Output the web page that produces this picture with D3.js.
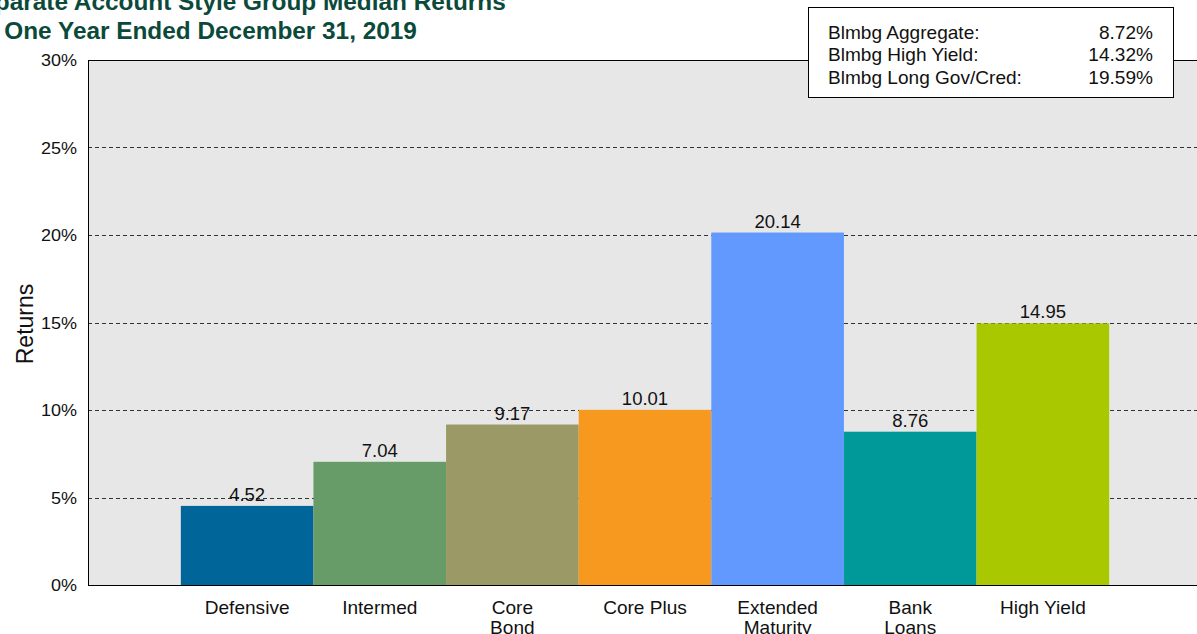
<!DOCTYPE html>
<html>
<head>
<meta charset="utf-8">
<script src="https://cdn.jsdelivr.net/npm/d3@7"></script>
<style>
  html, body { margin: 0; padding: 0; background: #ffffff; overflow: hidden; }
  svg { display: block; font-family: Arial, "Liberation Sans", sans-serif; }
</style>
</head>
<body>
<svg id="chart" width="1197" height="634"></svg>
<script>
// Style groups and their median one-year returns (%)
const categories = [["Defensive"], ["Intermed"], ["Core", "Bond"], ["Core Plus"], ["Extended", "Maturity"], ["Bank", "Loans"], ["High Yield"]];
const returns = [4.52, 7.04, 9.17, 10.01, 20.14, 8.76, 14.95];
const barColors = ["#006699", "#679b68", "#9b9966", "#f7981f", "#6199ff", "#009999", "#aac800"];

// Index returns shown in the box
const indexNames = ["Blmbg Aggregate:", "Blmbg High Yield:", "Blmbg Long Gov/Cred:"];
const indexValues = [8.72, 14.32, 19.59];

const yTicks = [0, 5, 10, 15, 20, 25, 30];
const titleLines = ["Separate Account Style Group Median Returns", "for One Year Ended December 31, 2019"];

const svg = d3.select("#chart");
const plot = { left: 88, right: 1202, top: 60, bottom: 585 };
const keys = categories.map(c => c.join(" "));
const STRETCH = 1.06; // slightly wide lettering

// Text placed at (x, y) and widened horizontally around its anchor
function label(parent, x, y, str, size, anchor, stretch) {
  return parent.append("text")
    .attr("transform", `translate(${x},${y}) scale(${stretch || STRETCH},1)`)
    .attr("text-anchor", anchor || "start")
    .attr("font-size", size)
    .attr("fill", "#111")
    .text(str);
}

const x = d3.scaleBand().domain(keys).range([plot.left, plot.right]).paddingInner(0).paddingOuter(0.7);
const y = d3.scaleLinear().domain([0, 30]).range([plot.bottom, plot.top]);

// Plot background
svg.append("rect")
  .attr("x", plot.left).attr("y", plot.top)
  .attr("width", plot.right - plot.left).attr("height", plot.bottom - plot.top)
  .attr("fill", "#e7e7e7");

// Dashed gridlines
svg.append("g")
  .selectAll("line")
  .data(yTicks.filter(t => t > 0 && t < 30))
  .join("line")
  .attr("x1", plot.left).attr("x2", plot.right)
  .attr("y1", d => Math.round(y(d)) + 0.5).attr("y2", d => Math.round(y(d)) + 0.5)
  .attr("stroke", "#333").attr("stroke-width", 1)
  .attr("stroke-dasharray", "4,3");

// Bars
svg.append("g")
  .selectAll("rect")
  .data(returns)
  .join("rect")
  .attr("x", (d, i) => x(keys[i]))
  .attr("width", x.bandwidth())
  .attr("y", d => y(d))
  .attr("height", d => y(0) - y(d))
  .attr("fill", (d, i) => barColors[i]);

// Value labels
const valueLayer = svg.append("g");
returns.forEach((v, i) => {
  label(valueLayer, x(keys[i]) + x.bandwidth() / 2, y(v) - 5, v.toFixed(2), 18.5, "middle", 1.0);
});

// Frame: top and left borders plus baseline
svg.append("line").attr("x1", plot.left).attr("x2", plot.right).attr("y1", plot.top + 0.5).attr("y2", plot.top + 0.5).attr("stroke", "#000");
svg.append("line").attr("x1", plot.left + 0.5).attr("x2", plot.left + 0.5).attr("y1", plot.top).attr("y2", plot.bottom).attr("stroke", "#000");

// Y axis
const yAxis = svg.append("g")
  .attr("transform", `translate(${plot.left},0)`)
  .call(d3.axisLeft(y).tickValues(yTicks).tickSize(0).tickFormat(d => d + "%"));
yAxis.select(".domain").remove();
yAxis.selectAll("text")
  .attr("x", 0).attr("dy", "0.35em")
  .attr("transform", `translate(-11,0) scale(${STRETCH},1)`)
  .attr("font-size", 17).attr("fill", "#111")
  .attr("font-family", "Arial, 'Liberation Sans', sans-serif");

// X axis with wrapped category labels
const xAxis = svg.append("g")
  .attr("transform", `translate(0,${plot.bottom})`)
  .call(d3.axisBottom(x).tickSize(0).tickFormat(""));
xAxis.select(".domain").attr("stroke", "#000").attr("d", `M${plot.left},0.5H${plot.right}`);
xAxis.selectAll(".tick").each(function(k, i) {
  const g = d3.select(this);
  categories[i].forEach((line, j) => {
    label(g, 0, 29 + j * 19.5, line, 17.5, "middle", 1.09)
      .attr("font-family", "Arial, 'Liberation Sans', sans-serif");
  });
});

// Y axis title
svg.append("text")
  .attr("transform", "translate(33,324) rotate(-90)")
  .attr("text-anchor", "middle")
  .attr("font-size", 23)
  .attr("fill", "#111")
  .text("Returns");

// Chart title
const titleLayer = svg.append("g");
titleLines.forEach((line, j) => {
  label(titleLayer, -35, 10 + j * 29, line, 23, "start", STRETCH)
    .attr("font-weight", "bold")
    .attr("fill", "#0b4a3b");
});

// Index returns box
const box = svg.append("g");
box.append("rect")
  .attr("x", 808.5).attr("y", 7.5).attr("width", 365).attr("height", 90)
  .attr("fill", "#fff").attr("stroke", "#000");
indexNames.forEach((name, i) => {
  label(box, 828, 38.5 + i * 22.8, name, 18, "start");
  label(box, 1153, 38.5 + i * 22.8, indexValues[i].toFixed(2) + "%", 18, "end");
});
</script>
</body>
</html>
